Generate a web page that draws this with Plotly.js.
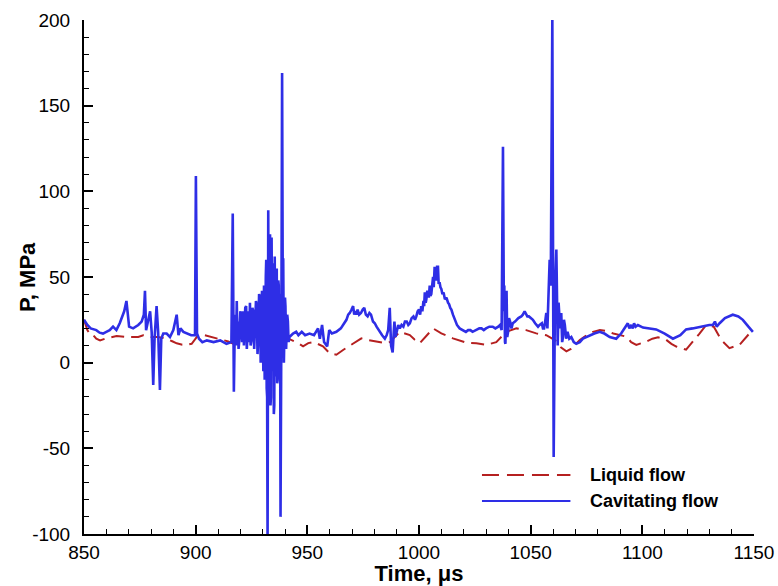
<!DOCTYPE html>
<html>
<head>
<meta charset="utf-8">
<script src="https://cdn.plot.ly/plotly-3.0.1.min.js"></script>
<style>html,body{margin:0;padding:0;background:#fff;}#chart{width:778px;height:586px;}</style>
</head>
<body>
<div id="chart"></div>
<script>
// Cavitating flow (blue solid): [time (µs), P (MPa)] pairs
var cavitatingA = [[850,25],[851.5,22],[853,20],[855.5,19],[857,17.5],[858.5,17],[860,18],[861.5,19],[863,21],[864.5,19],[866,23],[867,27],[868,30],[869,36],[869.6,27],[870.2,21],[872,20],[874.3,22],[875.8,24],[876.8,28],[877.3,42],[877.8,19],[878.8,25],[879.6,30],[880.3,18],[881,-13],[881.6,14],[882.5,33],[883.2,18],[884,-16],[884.6,14],[885.5,17],[887,17],[888.5,15],[890,19],[891.5,28],[892.3,16],[893.2,20],[894.5,18],[896.5,17],[898,16],[899.7,16],[900.1,109],[900.6,17],[901.5,14],[903,12],[905,13],[908,12],[911,13],[913.8,11],[916,12]];
var cavitatingB = [[916.6,87],[917.1,-17],[917.5,20],[917.8,28],[918.1,10],[918.4,36],[918.7,15],[918.9,24],[919.2,8],[919.6,14],[920,30],[920.5,27],[920.8,12],[921.3,30],[921.6,10],[921.9,18],[922.2,32],[922.6,33],[922.9,8],[923.3,19],[923.7,30],[924,12],[924.3,35],[924.6,10],[925,13],[925.4,32],[925.8,30],[926.2,8],[926.6,22],[927,36],[927.3,34],[927.7,5],[928,14],[928.4,40],[928.8,38],[929.1,0],[929.4,5],[929.7,42],[930,30],[930.3,-5],[930.6,45],[930.9,-10],[931.1,0],[931.4,50],[931.6,60],[931.8,-15],[932.0,-20],[932.2,-105],[932.5,89],[932.7,-10],[932.9,10],[933.1,70],[933.3,75],[933.5,-25],[933.7,-20],[933.9,72],[934,73],[934.3,-5],[934.5,0],[934.7,58],[935,-30],[935.2,-25],[935.4,62],[935.6,-8],[935.8,-5],[936,50],[936.3,55],[936.5,-12],[936.7,-10],[937,48],[937.2,45],[937.4,5],[937.6,10],[937.8,40],[938,-90],[938.4,30],[938.7,169],[939,40],[939.2,61],[939.5,0],[939.7,10],[940,38],[940.2,33],[940.5,8],[940.7,14],[941,28],[941.3,24],[941.6,12],[942,15]];
var cavitatingC = [[943.6,17],[945,18],[946,16],[947.5,18],[949,16],[951,17],[953,16],[954.8,20],[955.6,14],[956.6,22],[957.5,12],[958.9,9.5],[959.8,19],[961,17],[963,18],[965,20],[966.5,23],[967.5,25],[968.3,28],[969,29],[969.8,31],[970.5,33],[971,28],[971.5,30],[972,28],[972.5,31],[973.2,28],[974,29],[974.8,31],[975.5,32],[976.2,28],[977,27],[977.8,29],[978.5,28],[979.4,24],[980.2,23],[981,21],[982.4,18],[983.5,16],[984.7,14],[985.5,16],[986.2,19],[986.9,32],[987.5,10],[988.2,6],[988.7,18],[989,24],[989.5,15],[990,19],[990.7,22],[991.4,20],[992.2,22],[993,21],[993.7,24],[994.5,24],[995.2,22],[995.9,23],[996.7,26],[997.5,27],[998.2,25],[998.8,27],[999.4,30],[1000,31],[1000.5,28],[1001,33],[1001.5,30],[1002,36],[1002.3,33],[1002.6,41],[1003,35],[1003.3,37],[1003.7,42],[1004,41],[1004.4,38],[1004.8,45],[1005.1,39],[1005.5,40],[1005.9,48],[1006.3,50],[1006.6,44],[1007,56],[1007.4,50],[1007.8,48],[1008.1,56],[1008.5,56],[1008.8,46],[1009.2,47],[1009.6,44],[1010,43],[1010.5,40],[1011,41],[1011.6,37],[1012.3,38],[1013,35],[1013.5,34],[1014,32],[1014.5,31],[1015.2,28],[1016,25],[1017,22],[1018.2,20],[1019.5,19],[1021,18],[1022,19],[1023,19],[1024,18],[1025.5,19],[1027,20],[1028,20],[1029,19],[1030,20],[1031.5,21],[1033,21],[1034.2,20],[1035.5,21],[1036.3,22]];
var cavitatingD = [[1037,19],[1037.6,126],[1038,30],[1038.2,45],[1038.5,12],[1038.7,11],[1039,38],[1039.2,42],[1039.5,15],[1039.9,18],[1040.3,26],[1040.8,24],[1041.4,20],[1042,23],[1043,24],[1043.6,25],[1044.5,26],[1045.8,27],[1046.5,28],[1047.3,30],[1048,28],[1048.5,27],[1049.2,27],[1050,26],[1051,25],[1052,23],[1053.3,21],[1054,22],[1055,23],[1055.5,20],[1056,20],[1056.5,24],[1057,29],[1057.5,20],[1058,45],[1058.5,60],[1059,45],[1059.7,201],[1060.3,-55],[1060.9,40],[1061.5,66],[1062.1,10],[1062.5,35],[1062.8,30],[1063.2,20],[1063.7,29],[1064.1,12],[1064.5,15],[1064.9,25],[1065.3,22],[1065.9,14],[1066.5,18],[1067.3,14],[1068.2,15],[1069.3,12],[1070.4,11],[1072,12],[1073.4,14],[1075,15],[1076.4,16],[1078.5,17],[1080.9,18],[1083,17],[1085.4,15],[1088.3,14],[1090.5,17],[1092,20],[1092.8,21],[1093.5,23],[1094.2,20],[1095,22],[1095.7,20],[1096.3,23],[1097,21],[1098,22],[1100.3,20.5],[1103,20],[1106.2,19.4],[1110,17],[1113.7,14],[1117,16],[1119.6,19.4],[1122.5,20],[1125.6,21],[1128,21.5],[1130,22],[1131.6,22],[1132.5,24],[1133.3,21],[1134.6,23],[1137,26],[1140.5,28],[1143,27],[1145,25],[1147.5,21],[1149.5,18]];

// Liquid flow (red dashed): [time (µs), P (MPa)] pairs
var liquidPoints = [[850,25],[851.5,19],[853,16],[854.2,16],[855.5,14],[857.2,13],[859.5,14],[861.7,14.5],[864.6,15.6],[869,15],[874.3,15],[876.5,16],[880,15],[883,15],[887,14],[889.5,12.5],[891.5,11.3],[894,10.5],[896,10.4],[898.2,11],[900,14],[901.1,16],[904,16],[907.1,15],[910.5,14],[914.6,12.4],[917,11],[920,12],[924,14],[928,16],[932,17],[936,16],[939,15],[941.5,14],[942.9,13.2],[945.9,11.4],[948.1,9.5],[950.4,11.4],[953,12],[955,10.5],[957,9.5],[960,5.5],[963,4.6],[966,7.4],[970.5,11.4],[974.2,14.2],[977.2,13.2],[981,12.4],[984.7,11.4],[987,12],[989,15],[991.4,18],[995.9,16.1],[998,13.5],[1000.3,11.3],[1003,15],[1006.3,20],[1010,17.1],[1015.2,14.2],[1021.2,11.7],[1025.7,11.3],[1030.2,10.4],[1034.6,12],[1039.1,18],[1043.6,20],[1048,19],[1052.5,17.1],[1057,16],[1061,13],[1063.5,9],[1066,6.6],[1068,8],[1070.4,11.3],[1072,13.2],[1075,16],[1077.9,18],[1081,19],[1084,18.5],[1087,17],[1090,16],[1092.8,15.2],[1095,12],[1097.3,10.4],[1101.8,12.3],[1104.5,14],[1107,14.8],[1110.7,13.3],[1113,11],[1115.2,9.4],[1119.6,7.6],[1122.5,12],[1125.6,17],[1128.6,22],[1132,21],[1135.3,13.3],[1139,8.5],[1143.5,10.4],[1148,17.1],[1149.5,18.5]];

var xTickVals = [850,900,950,1000,1050,1100,1150];
var yTickVals = [-100,-50,0,50,100,150,200];
var legendNames = ['Liquid flow','Cavitating flow'];

var cavPoints = cavitatingA.concat(cavitatingB, cavitatingC, cavitatingD);
var cavTime = cavPoints.map(function(p){return p[0];});
var cavP = cavPoints.map(function(p){return p[1];});
var liqTime = liquidPoints.map(function(p){return p[0];});
var liqP = liquidPoints.map(function(p){return p[1];});

var FONT = 'Liberation Sans, Arial, Helvetica, sans-serif';
var BLUE = '#2e2ee6';
var RED = '#b52020';

var traces = [
  {x: liqTime, y: liqP, type: 'scatter', mode: 'lines', name: legendNames[0],
   line: {color: RED, width: 2, dash: '13px,7px'}},
  {x: cavTime, y: cavP, type: 'scatter', mode: 'lines', name: legendNames[1],
   line: {color: BLUE, width: 2.6}}
];

var axisCommon = {
  showline: true, linecolor: '#000', linewidth: 2, mirror: false,
  showgrid: false, zeroline: false,
  ticks: 'inside', ticklen: 9, tickwidth: 2, tickcolor: '#000',
  tickfont: {family: FONT, size: 19, color: '#000'},
  minor: {dtick: 10, ticks: 'inside', ticklen: 5, tickwidth: 1, tickcolor: '#000', showgrid: false}
};

var layout = {
  width: 778, height: 586,
  margin: {l: 84, r: 24, t: 20, b: 52},
  paper_bgcolor: '#fff', plot_bgcolor: '#fff',
  showlegend: false,
  xaxis: Object.assign({}, axisCommon, {
    range: [850, 1150], tickvals: xTickVals, ticktext: xTickVals.map(String),
    ticklabelstandoff: 0,
    title: {text: '<b>Time, μs</b>', font: {family: FONT, size: 22, color: '#000'}, standoff: 2}
  }),
  yaxis: Object.assign({}, axisCommon, {
    range: [-100, 200], tickvals: yTickVals, ticktext: yTickVals.map(String),
    ticklabelstandoff: 8
  }),
  shapes: [
    {type: 'line', xref: 'paper', yref: 'paper', x0: 0.594, x1: 0.726, y0: 0.115, y1: 0.115,
     line: {color: RED, width: 2, dash: '17px,8px'}},
    {type: 'line', xref: 'paper', yref: 'paper', x0: 0.594, x1: 0.726, y0: 0.064, y1: 0.064,
     line: {color: BLUE, width: 2}}
  ],
  annotations: [
    {xref: 'paper', yref: 'paper', x: 0, y: 0.5, xshift: -57, xanchor: 'center', yanchor: 'middle',
     textangle: -90, showarrow: false,
     text: '<b>P, MPa</b>', font: {family: FONT, size: 22, color: '#000'}},
    {xref: 'paper', yref: 'paper', x: 0.752, y: 0.115, xanchor: 'left', yanchor: 'middle', showarrow: false,
     text: '<b>' + legendNames[0] + '</b>', font: {family: FONT, size: 18, color: '#000'}},
    {xref: 'paper', yref: 'paper', x: 0.752, y: 0.064, xanchor: 'left', yanchor: 'middle', showarrow: false,
     text: '<b>' + legendNames[1] + '</b>', font: {family: FONT, size: 18, color: '#000'}}
  ]
};

Plotly.newPlot('chart', traces, layout, {displayModeBar: false, staticPlot: true});
</script>
</body>
</html>
